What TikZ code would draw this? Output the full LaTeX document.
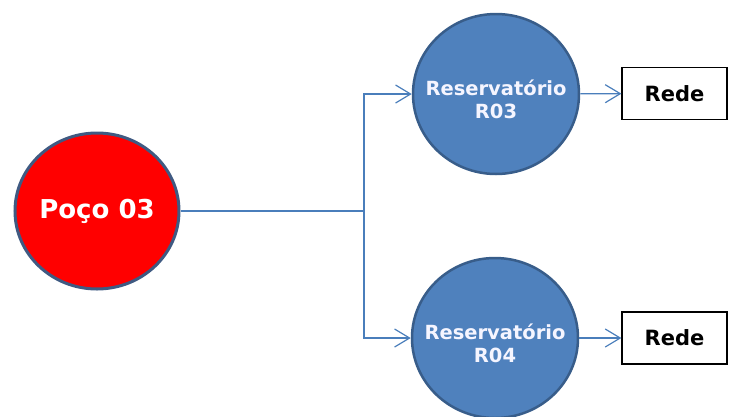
\documentclass[tikz,border=0pt]{standalone}
\usepackage{fontspec}
\usetikzlibrary{positioning,shapes.geometric,arrows.meta}
\newfontfamily\diagfont{DejaVu Sans}
\definecolor{linha}{HTML}{4A7EBB}
\definecolor{azul}{HTML}{4F81BD}
\definecolor{azulborda}{HTML}{385D8A}
\definecolor{pocoborda}{HTML}{3F5A82}
\tikzset{
	>={Straight Barb[length=15pt,width=18pt]},
}

\begin{document}
\begin{tikzpicture}[x=1pt,y=-1pt,
		poco/.style={ellipse, draw=pocoborda, line width=3pt, fill=red, inner sep=0pt, minimum width=164pt, minimum height=156pt},
		reserv/.style={ellipse, draw=azulborda, line width=2.5pt, fill=azul, inner sep=0pt, minimum width=166pt, minimum height=160pt},
		pocotxt/.style={text=white, font=\diagfont\bfseries\fontsize{26}{30}\selectfont},
		restxt/.style={text=blue!4, align=center, font=\diagfont\bfseries\fontsize{19.5}{23}\selectfont, yshift=-5pt},
		rede/.style={rectangle, draw, line width=1.2pt, minimum width=105pt, minimum height=52pt,
			font=\diagfont\bfseries\fontsize{21}{24}\selectfont},
		fluxo/.style={draw=linha, line width=1.2pt},
	]
		\useasboundingbox (0,0) rectangle (729,416);
		\node(poco)[poco,label={[pocotxt]center:Poço 03}] at (97,211) {};
		\node(r03)[reserv,label={[restxt]center:Reservatório\\R03}] at (496,94) {};
		\node(r04)[reserv,label={[restxt]center:Reservatório\\R04}] at (495,338) {};
		\node(rede3)[rede] at (674.5,93.5) {Rede};
		\node(rede4)[rede] at (674.5,338) {Rede};
		\coordinate(k) at (364,211);
		% ligacoes
		\draw[fluxo] (poco) -- (k);
		\draw[fluxo,->] (k) |- (r03.west);
		\draw[fluxo,->] (k) |- (r04.west);
		\draw[fluxo,->] (r03) -- (rede3);
		\draw[fluxo,->] (r04) -- (rede4);
	\end{tikzpicture}
\end{document}
